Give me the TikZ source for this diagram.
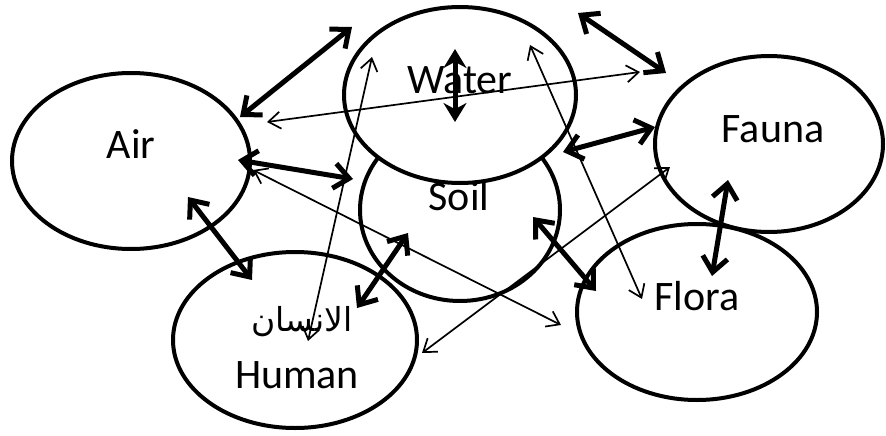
\documentclass[tikz,border=0pt]{standalone}
\usepackage{fontspec}
\setmainfont{Carlito}
\newfontfamily\arabicfont[Script=Arabic]{DejaVu Sans}
\TeXXeTstate=1
\usetikzlibrary{shapes.geometric,arrows.meta}
\begin{document}
\begin{tikzpicture}[x=1pt,y=-1pt,
  ell/.style={draw,ellipse,line width=4pt,inner sep=0pt},
  lbl/.style={anchor=base,font=\fontsize{42}{50}\selectfont,inner sep=0pt},
  arlbl/.style={anchor=base,font=\fontsize{33}{40}\selectfont\arabicfont,inner sep=0pt},
  thickarr/.style={line width=5pt,{Straight Barb[length=15pt,width=25pt]}-{Straight Barb[length=15pt,width=25pt]}},
  thinarr/.style={line width=1.7pt,{Straight Barb[length=12pt,width=17pt]}-{Straight Barb[length=12pt,width=17pt]}},
  vertarr/.style={line width=5pt,{Stealth[length=19pt,width=23pt]}-{Stealth[length=19pt,width=23pt]}}]
\useasboundingbox (0,0) rectangle (886,436);
% ellipses
\node[ell,minimum width=200pt,minimum height=182pt] (soil) at (460,210) {};
\node[ell,fill=white,minimum width=232pt,minimum height=176pt] (water) at (460,95) {};
\node[ell,minimum width=238pt,minimum height=176pt] (air) at (131,161) {};
\node[ell,minimum width=228pt,minimum height=176pt] (fauna) at (769,144) {};
\node[ell,minimum width=240pt,minimum height=176pt] (flora) at (697,312) {};
\node[ell,minimum width=244pt,minimum height=176pt] (human) at (295,340) {};
% labels
\node[lbl] (tair) at (131,158) {Air};
\node[lbl] (twater) at (460,93) {Water};
\node[lbl] (tsoil) at (459,210) {Soil};
\node[lbl] (tfauna) at (773,142) {Fauna};
\node[lbl] (tflora) at (697,310) {Flora};
\node[lbl] (thuman) at (297,388) {Human};
\node[arlbl] (tarab) at (302,331) {\beginR الانسان\endR};
% arrow end points
\coordinate (aw1) at (240,117); \coordinate (aw2) at (352,27);
\coordinate (wf1) at (578,13);  \coordinate (wf2) at (666,73);
\coordinate (wv1) at (455,49);  \coordinate (wv2) at (455,122);
\coordinate (as1) at (238,160); \coordinate (as2) at (353,179);
\coordinate (sf1) at (563,152); \coordinate (sf2) at (655,127);
\coordinate (ah1) at (188,197); \coordinate (ah2) at (252,280);
\coordinate (sh1) at (408,233); \coordinate (sh2) at (357,308);
\coordinate (sl1) at (533,217); \coordinate (sl2) at (596,291);
\coordinate (ff1) at (728,180); \coordinate (ff2) at (712,276);
\coordinate (ta1) at (267,122); \coordinate (ta2) at (640,72);
\coordinate (tb1) at (308,341); \coordinate (tb2) at (372,57);
\coordinate (tc1) at (530,45);  \coordinate (tc2) at (642,299);
\coordinate (td1) at (253,170); \coordinate (td2) at (561,325);
\coordinate (te1) at (422,353); \coordinate (te2) at (670,167);
% thin arrows
\draw[thinarr] (ta1) -- (ta2);
\draw[thinarr] (tb1) -- (tb2);
\draw[thinarr] (tc1) -- (tc2);
\draw[thinarr] (td1) -- (td2);
\draw[thinarr] (te1) -- (te2);
% thick arrows
\draw[thickarr] (aw1) -- (aw2);
\draw[thickarr] (wf1) -- (wf2);
\draw[vertarr] (wv1) -- (wv2);
\draw[thickarr] (as1) -- (as2);
\draw[thickarr] (sf1) -- (sf2);
\draw[thickarr] (ah1) -- (ah2);
\draw[thickarr] (sh1) -- (sh2);
\draw[thickarr] (sl1) -- (sl2);
\draw[thickarr] (ff1) -- (ff2);
\end{tikzpicture}
\end{document}
